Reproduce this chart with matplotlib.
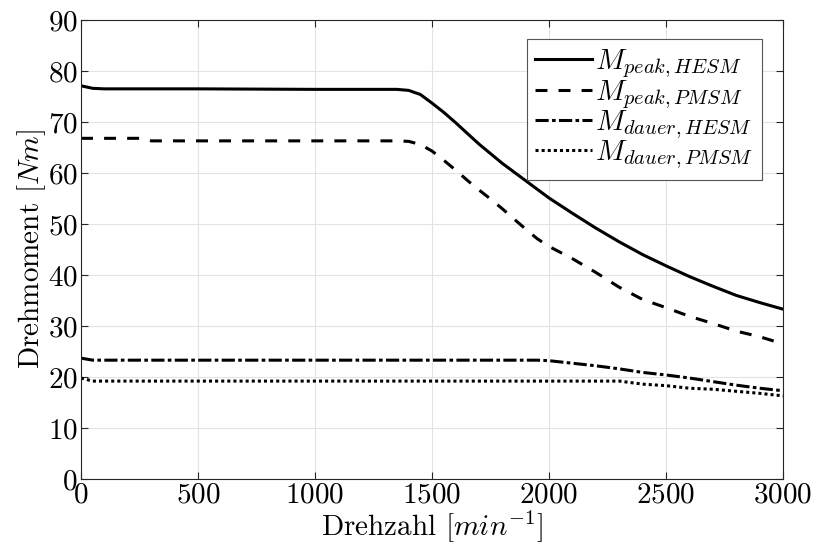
import numpy as np
import matplotlib
matplotlib.use('Agg')
import matplotlib.pyplot as plt

plt.rcParams['font.family'] = 'serif'
plt.rcParams['font.serif'] = ['cmr10']
plt.rcParams['mathtext.fontset'] = 'cm'
plt.rcParams['axes.formatter.use_mathtext'] = True
plt.rcParams['lines.scale_dashes'] = False

rpm = [0, 50, 100, 250, 300, 500, 1000, 1350, 1400, 1450, 1500, 1550, 1600, 1650,
       1700, 1750, 1800, 1850, 1900, 1950, 2000, 2100, 2200, 2300, 2400, 2500,
       2600, 2700, 2800, 2900, 3000]

peakHESM = [77.1, 76.6, 76.5, 76.5, 76.5, 76.5, 76.4, 76.4, 76.2, 75.4, 73.7, 71.9,
            69.9, 67.8, 65.7, 63.8, 61.9, 60.2, 58.5, 56.8, 55.1, 52.1, 49.2, 46.5,
            44.0, 41.8, 39.7, 37.8, 36.0, 34.6, 33.3]
peakPMSM = [66.8, 66.8, 66.8, 66.8, 66.3, 66.3, 66.3, 66.3, 66.2, 65.6, 64.3, 62.5,
            60.6, 58.6, 56.7, 54.9, 53.0, 51.0, 49.0, 47.1, 45.6, 43.2, 40.5, 37.6,
            35.2, 33.6, 31.9, 30.5, 29.0, 27.9, 26.5]
dauerHESM = [23.7, 23.3, 23.3, 23.3, 23.3, 23.3, 23.3, 23.3, 23.3, 23.3, 23.3, 23.3,
             23.3, 23.3, 23.3, 23.3, 23.3, 23.3, 23.3, 23.3, 23.2, 22.7, 22.2, 21.6,
             20.9, 20.4, 19.8, 19.1, 18.4, 17.8, 17.3]
dauerPMSM = [19.8, 19.2, 19.2, 19.2, 19.2, 19.2, 19.2, 19.2, 19.2, 19.2, 19.2, 19.2,
             19.2, 19.2, 19.2, 19.2, 19.2, 19.2, 19.2, 19.2, 19.2, 19.2, 19.2, 19.2,
             18.6, 18.3, 17.8, 17.6, 17.2, 16.8, 16.3]

fig, ax = plt.subplots(figsize=(8.16, 5.48), dpi=100)
fig.subplots_adjust(left=0.0993, right=0.9596, top=0.9635, bottom=0.1259)

lw = 2.2
ax.plot(rpm, peakHESM, color='black', lw=lw, label=r'$M_{peak,HESM}$')
ax.plot(rpm, peakPMSM, color='black', lw=lw, dashes=(8.6, 8), label=r'$M_{peak,PMSM}$')
ax.plot(rpm, dauerHESM, color='black', lw=lw, dashes=(9.5, 2.4, 2.6, 2.4), label=r'$M_{dauer,HESM}$')
ax.plot(rpm, dauerPMSM, color='black', lw=lw, dashes=(2.2, 2.2), label=r'$M_{dauer,PMSM}$')

ax.set_xlim(0, 3000)
ax.set_ylim(0, 90)
ax.set_xticks(np.arange(0, 3001, 500))
ax.set_yticks(np.arange(0, 91, 10))
ax.grid(True, color='#e3e3e3', lw=0.8)
ax.set_axisbelow(True)
ax.tick_params(direction='in', length=5, width=0.8, top=True, right=True,
               labelsize=21, color='#262626', pad=2.5)
for s in ax.spines.values():
    s.set_color('#262626')
    s.set_linewidth(0.8)

ax.set_xlabel(r'Drehzahl $[min^{-1}]$', fontsize=21)
ax.set_ylabel(r'Drehmoment $[Nm]$', fontsize=21)
ax.yaxis.set_label_coords(-0.047, 0.5)
ax.xaxis.set_label_coords(0.5, -0.063)

leg = ax.legend(loc='upper right', bbox_to_anchor=(0.970, 0.959), borderaxespad=0,
                fontsize=21, fancybox=False, framealpha=1, edgecolor='#555555',
                handlelength=1.95, handletextpad=0.1, labelspacing=-0.08, borderpad=0.3)
leg.get_frame().set_linewidth(0.8)

plt.savefig('out.png', dpi=100)
